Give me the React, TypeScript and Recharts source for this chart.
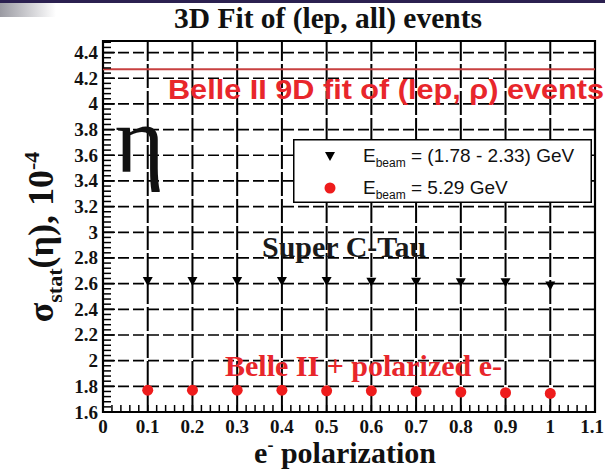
import React from 'react';
import { ScatterChart, Scatter, XAxis, YAxis, ReferenceLine, ReferenceArea, Legend } from 'recharts';

// e- polarization values and the two projections
const POLARIZATION = [0.1, 0.2, 0.3, 0.4, 0.5, 0.6, 0.7, 0.8, 0.9, 1.0];
const SUPER_CTAU = [2.62, 2.62, 2.62, 2.62, 2.62, 2.615, 2.615, 2.61, 2.61, 2.585];
const BELLE2_POL = [1.77, 1.77, 1.77, 1.77, 1.765, 1.765, 1.76, 1.755, 1.75, 1.745];
const BELLE2_9D = 4.27;

const SERIES_NAMES = ['(1.78 - 2.33) GeV', '5.29 GeV'];

const X_MAJOR = [0, 0.1, 0.2, 0.3, 0.4, 0.5, 0.6, 0.7, 0.8, 0.9, 1, 1.1];
const Y_MAJOR = [1.6, 1.8, 2, 2.2, 2.4, 2.6, 2.8, 3, 3.2, 3.4, 3.6, 3.8, 4, 4.2, 4.4];
const X_MINOR = Array.from({ length: 56 }, (_, i) => Math.round(i * 2) / 100);
const Y_MINOR = Array.from({ length: 73 }, (_, i) => Math.round(160 + 4 * i) / 100);

const SERIF = '"Liberation Serif", "Times New Roman", serif';
const SANS = '"Liberation Sans", Arial, sans-serif';
const RED = '#e8262b';

const sctData = POLARIZATION.map((x, i) => ({ x, y: SUPER_CTAU[i] }));
const belleData = POLARIZATION.map((x, i) => ({ x, y: BELLE2_POL[i] }));

const isMajor = (list: number[], v: number) => list.some((m) => Math.abs(m - v) < 1e-6);

const XTick = (props: any) => {
  const { x, y, payload } = props;
  const v = payload.value;
  const major = isMajor(X_MAJOR, v);
  // last label sits on the picture edge, keep it inside
  const last = Math.abs(v - 1.1) < 1e-6;
  return (
    <g>
      <line x1={x} x2={x} y1={y} y2={y - 7} stroke="#000" strokeWidth={1.5} />
      {major && (
        <text
          x={last ? 604 : x}
          y={y + 21}
          textAnchor={last ? 'end' : 'middle'}
          fontFamily={SERIF}
          fontWeight="bold"
          fontSize={19}
          fill="#111"
        >
          {String(v)}
        </text>
      )}
    </g>
  );
};

const YTick = (props: any) => {
  const { x, y, payload } = props;
  const v = payload.value;
  const major = isMajor(Y_MAJOR, v);
  return (
    <g>
      <line x1={x} x2={x + (major ? 12 : 8)} y1={y} y2={y} stroke="#000" strokeWidth={1.5} />
      {major && (
        <text x={x - 5} y={y + 6.5} textAnchor="end" fontFamily={SERIF} fontWeight="bold" fontSize={19} fill="#111">
          {String(v)}
        </text>
      )}
    </g>
  );
};

const DownTriangle = (props: any) => {
  const { cx, cy } = props;
  return <polygon points={`${cx - 5},${cy - 4} ${cx + 5},${cy - 4} ${cx},${cy + 5}`} fill="#000" />;
};

const RedDot = (props: any) => {
  const { cx, cy } = props;
  return <circle cx={cx} cy={cy} r={5.5} fill="#ee1c1c" />;
};

const renderLegend = (props: any) => {
  const payload = props.payload || [];
  return (
    <svg width={299} height={64} style={{ display: 'block' }}>
      <rect x={0.75} y={0.75} width={297.5} height={62.5} fill="#fff" stroke="#000" strokeWidth={1.5} />
      {payload.map((entry: any, i: number) => {
        const cy = i === 0 ? 17 : 49;
        return (
          <g key={i}>
            {i === 0 ? <DownTriangle cx={37} cy={cy} /> : <RedDot cx={37} cy={cy} />}
            <text x={70} y={cy + 6} fontFamily={SANS} fontSize={19} fill="#111">
              E
              <tspan fontSize={12} dy={5}>beam</tspan>
              <tspan dy={-5}>{' = ' + entry.value}</tspan>
            </text>
          </g>
        );
      })}
    </svg>
  );
};

export default function App() {
  return (
    <div style={{ position: 'absolute', left: 0, top: 0, width: 605, height: 473, background: '#fff' }}>
      <ScatterChart width={605} height={473} margin={{ top: 41, right: 10, bottom: 0, left: 0 }}>
        <XAxis
          type="number"
          dataKey="x"
          domain={[0, 1.1]}
          ticks={X_MINOR}
          interval={0}
          tickSize={0}
          tickMargin={0}
          tickLine={false}
          axisLine={false}
          tick={<XTick />}
          height={61}
          allowDataOverflow
        />
        <YAxis
          type="number"
          dataKey="y"
          domain={[1.6, 4.49]}
          ticks={Y_MINOR}
          interval={0}
          tickSize={0}
          tickMargin={0}
          tickLine={false}
          axisLine={false}
          tick={<YTick />}
          width={103}
          allowDataOverflow
        />
        {Y_MAJOR.slice(1).map((v) => (
          <ReferenceLine key={'h' + v} y={v} stroke="#000" strokeWidth={1.7} strokeDasharray="11 4" />
        ))}
        {X_MAJOR.slice(1, -1).map((v) => (
          <ReferenceLine key={'v' + v} x={v} stroke="#000" strokeWidth={2} strokeDasharray="24 3" />
        ))}
        <ReferenceLine y={BELLE2_9D} stroke="#c84040" strokeWidth={2} />
        <Scatter name={SERIES_NAMES[0]} data={sctData} shape={<DownTriangle />} fill="#000" isAnimationActive={false} />
        <Scatter name={SERIES_NAMES[1]} data={belleData} shape={<RedDot />} fill="#ee1c1c" isAnimationActive={false} />
        <ReferenceArea x1={0} x2={1.1} y1={1.6} y2={4.49} fill="none" fillOpacity={0} stroke="#000" strokeWidth={2.2} />
        <Legend
          layout="vertical"
          align="center"
          verticalAlign="middle"
          content={renderLegend}
          wrapperStyle={{ position: 'absolute', left: 293, top: 139, width: 299, height: 64 }}
        />
      </ScatterChart>
      <svg width={605} height={473} style={{ position: 'absolute', left: 0, top: 0, pointerEvents: 'none' }}>
        <defs>
          <linearGradient id="corner" x1="0" x2="1" y1="0" y2="0">
            <stop offset="0" stopColor="#9a9aa2" />
            <stop offset="1" stopColor="#ffffff" />
          </linearGradient>
        </defs>
        <rect x={0} y={0} width={605} height={3} fill="#2b2050" />
        <rect x={0} y={3} width={56} height={14} fill="url(#corner)" />
        <text x={174} y={28} fontFamily={SERIF} fontWeight="bold" fontSize={29} fill="#111" textLength={308} lengthAdjust="spacingAndGlyphs">
          3D Fit of (lep, all) events
        </text>
        <text x={168} y={99} fontFamily={SANS} fontWeight="bold" fontSize={28} fill={RED} textLength={436} lengthAdjust="spacingAndGlyphs">
          Belle II 9D fit of (lep, ρ) events
        </text>
        <text x={115} y={172} fontFamily={SERIF} fontSize={95} fill="#111">η</text>
        <text x={262} y={257} fontFamily={SERIF} fontWeight="bold" fontSize={30} fill="#1a1a1a">
          Super C-Tau
        </text>
        <text x={225} y={376} fontFamily={SERIF} fontWeight="bold" fontSize={30} fill={RED}>
          Belle II + polarized e-
        </text>
        <text x={345} y={463} textAnchor="middle" fontFamily={SERIF} fontWeight="bold" fontSize={30} fill="#111">
          e
          <tspan fontSize={18} dy={-12}>-</tspan>
          <tspan dy={12}>{' polarization'}</tspan>
        </text>
        <text
          x={53}
          y={237}
          transform="rotate(-90, 53, 237)"
          textAnchor="middle"
          fontFamily={SERIF}
          fontWeight="bold"
          fontSize={36}
          fill="#111"
        >
          σ
          <tspan fontSize={22} dy={9}>stat</tspan>
          <tspan dy={-9}>(η), 10</tspan>
          <tspan fontSize={22} dy={-14}>-4</tspan>
        </text>
      </svg>
    </div>
  );
}
